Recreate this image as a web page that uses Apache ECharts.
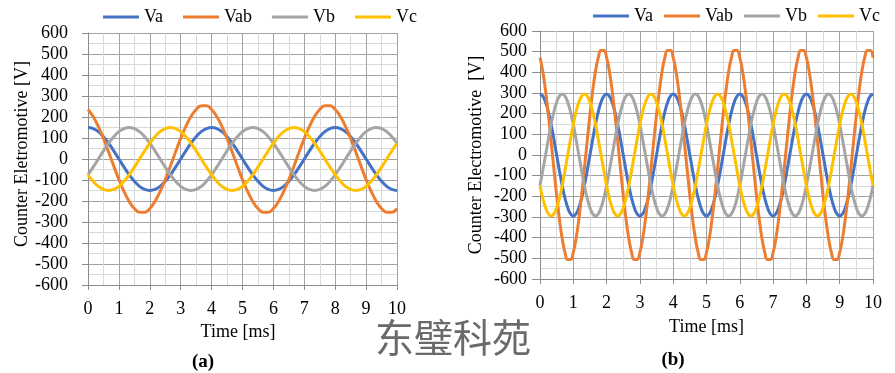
<!DOCTYPE html>
<html><head><meta charset="utf-8">
<script src="https://cdn.jsdelivr.net/npm/echarts@6/dist/echarts.min.js"></script>
<style>html,body{margin:0;padding:0;background:#fff}#c{width:895px;height:373px}</style>
</head><body><div id="c"></div>
<script>
// ---------- chart (a) ----------
const timeA = [0,0.167,0.333,0.5,0.667,0.833, 1,1.167,1.333,1.5,1.667,1.833, 2,2.167,2.333,2.5,2.667,2.833,
  3,3.167,3.333,3.5,3.667,3.833, 4,4.167,4.333,4.5,4.667,4.833, 5,5.167,5.333,5.5,5.667,5.833,
  6,6.167,6.333,6.5,6.667,6.833, 7,7.167,7.333,7.5,7.667,7.833, 8,8.167,8.333,8.5,8.667,8.833,
  9,9.167,9.333,9.5,9.667,9.833, 10];
const vaA = [150,145,130,106,75,39,0,-39,-75,-106,-130,-145,-150,-145,-130,-106,-75,-39,0,39,75,106,130,145,
  150,145,130,106,75,39,0,-39,-75,-106,-130,-145,-150,-145,-130,-106,-75,-39,0,39,75,106,130,145,
  150,145,130,106,75,39,0,-39,-75,-106,-130,-145,-150];
const vabA = [236,202,155,98,33,-33,-98,-155,-202,-236,-253,-253,-236,-202,-155,-98,-33,33,98,155,202,236,253,253,
  236,202,155,98,33,-33,-98,-155,-202,-236,-253,-253,-236,-202,-155,-98,-33,33,98,155,202,236,253,253,
  236,202,155,98,33,-33,-98,-155,-202,-236,-253,-253,-236];
const vbA = [-75,-39,0,39,75,106,130,145,150,145,130,106,75,39,0,-39,-75,-106,-130,-145,-150,-145,-130,-106,
  -75,-39,0,39,75,106,130,145,150,145,130,106,75,39,0,-39,-75,-106,-130,-145,-150,-145,-130,-106,
  -75,-39,0,39,75,106,130,145,150,145,130,106,75];
const vcA = [-75,-106,-130,-145,-150,-145,-130,-106,-75,-39,0,39,75,106,130,145,150,145,130,106,75,39,0,-39,
  -75,-106,-130,-145,-150,-145,-130,-106,-75,-39,0,39,75,106,130,145,150,145,130,106,75,39,0,-39,
  -75,-106,-130,-145,-150,-145,-130,-106,-75,-39,0,39,75];

// ---------- chart (b) ----------
const timeB = [0,0.083,0.167,0.25,0.333,0.417,0.5,0.583,0.667,0.75,0.833,0.917,
  1,1.083,1.167,1.25,1.333,1.417,1.5,1.583,1.667,1.75,1.833,1.917,
  2,2.083,2.167,2.25,2.333,2.417,2.5,2.583,2.667,2.75,2.833,2.917,
  3,3.083,3.167,3.25,3.333,3.417,3.5,3.583,3.667,3.75,3.833,3.917,
  4,4.083,4.167,4.25,4.333,4.417,4.5,4.583,4.667,4.75,4.833,4.917,
  5,5.083,5.167,5.25,5.333,5.417,5.5,5.583,5.667,5.75,5.833,5.917,
  6,6.083,6.167,6.25,6.333,6.417,6.5,6.583,6.667,6.75,6.833,6.917,
  7,7.083,7.167,7.25,7.333,7.417,7.5,7.583,7.667,7.75,7.833,7.917,
  8,8.083,8.167,8.25,8.333,8.417,8.5,8.583,8.667,8.75,8.833,8.917,
  9,9.083,9.167,9.25,9.333,9.417,9.5,9.583,9.667,9.75,9.833,9.917,
  10];
const vaB = [295,285,255,209,148,76,0,-76,-148,-209,-255,-285,-295,-285,-255,-209,-148,-76,0,76,148,209,255,285,
  295,285,255,209,148,76,0,-76,-148,-209,-255,-285,-295,-285,-255,-209,-148,-76,0,76,148,209,255,285,
  295,285,255,209,148,76,0,-76,-148,-209,-255,-285,-295,-285,-255,-209,-148,-76,0,76,148,209,255,285,
  295,285,255,209,148,76,0,-76,-148,-209,-255,-285,-295,-285,-255,-209,-148,-76,0,76,148,209,255,285,
  295,285,255,209,148,76,0,-76,-148,-209,-255,-285,-295,-285,-255,-209,-148,-76,0,76,148,209,255,285,
  295];
const vabB = [471,405,310,195,67,-67,-195,-310,-405,-471,-506,-506,-471,-405,-310,-195,-67,67,195,310,405,471,506,506,
  471,405,310,195,67,-67,-195,-310,-405,-471,-506,-506,-471,-405,-310,-195,-67,67,195,310,405,471,506,506,
  471,405,310,195,67,-67,-195,-310,-405,-471,-506,-506,-471,-405,-310,-195,-67,67,195,310,405,471,506,506,
  471,405,310,195,67,-67,-195,-310,-405,-471,-506,-506,-471,-405,-310,-195,-67,67,195,310,405,471,506,506,
  471,405,310,195,67,-67,-195,-310,-405,-471,-506,-506,-471,-405,-310,-195,-67,67,195,310,405,471,506,506,
  471];
const vbB = [-148,-76,0,76,148,209,255,285,295,285,255,209,148,76,0,-76,-148,-209,-255,-285,-295,-285,-255,-209,
  -148,-76,0,76,148,209,255,285,295,285,255,209,148,76,0,-76,-148,-209,-255,-285,-295,-285,-255,-209,
  -148,-76,0,76,148,209,255,285,295,285,255,209,148,76,0,-76,-148,-209,-255,-285,-295,-285,-255,-209,
  -148,-76,0,76,148,209,255,285,295,285,255,209,148,76,0,-76,-148,-209,-255,-285,-295,-285,-255,-209,
  -148,-76,0,76,148,209,255,285,295,285,255,209,148,76,0,-76,-148,-209,-255,-285,-295,-285,-255,-209,
  -148];
const vcB = [-148,-209,-255,-285,-295,-285,-255,-209,-148,-76,0,76,148,209,255,285,295,285,255,209,148,76,0,-76,
  -148,-209,-255,-285,-295,-285,-255,-209,-148,-76,0,76,148,209,255,285,295,285,255,209,148,76,0,-76,
  -148,-209,-255,-285,-295,-285,-255,-209,-148,-76,0,76,148,209,255,285,295,285,255,209,148,76,0,-76,
  -148,-209,-255,-285,-295,-285,-255,-209,-148,-76,0,76,148,209,255,285,295,285,255,209,148,76,0,-76,
  -148,-209,-255,-285,-295,-285,-255,-209,-148,-76,0,76,148,209,255,285,295,285,255,209,148,76,0,-76,
  -148];

const seriesNames = ['Va','Vab','Vb','Vc'];
const seriesColors = ['#4472C4','#ED7D31','#A5A5A5','#FFC000'];
const xTitle = 'Time [ms]';
const yTitleA = 'Counter Eletromotive [V]';
const yTitleB = 'Counter Electromotive  [V]';

const serif = '"Liberation Serif","Times New Roman",serif';
const pairs = (t, v) => t.map((x, i) => [x, v[i]]);
const majorC = '#a3a3a3', minorC = '#d9d9d9', axisC = '#8c8c8c';

function xAx(gi, margin, gap, pad) {
  return {
    type: 'value', gridIndex: gi, min: 0, max: 10, interval: 1,
    axisLine: { show: true, onZero: false, lineStyle: { color: axisC, width: 1 } },
    axisTick: { show: true, length: 5, lineStyle: { color: axisC } },
    axisLabel: { color: '#000', fontFamily: serif, fontSize: 18, margin: margin },
    splitLine: { show: true, lineStyle: { color: majorC, width: 1 } },
    minorTick: { show: false, splitNumber: 2 },
    minorSplitLine: { show: true, lineStyle: { color: minorC, width: 1 } },
    name: xTitle, nameLocation: 'middle', nameGap: gap,
    nameTextStyle: { color: '#000', fontFamily: serif, fontSize: 18, padding: pad }
  };
}
function yAx(gi, margin, tick, gap, name, pad) {
  return {
    type: 'value', gridIndex: gi, min: -600, max: 600, interval: 100,
    axisLine: { show: true, lineStyle: { color: axisC, width: 1 } },
    axisTick: { show: true, length: tick, lineStyle: { color: axisC } },
    axisLabel: { color: '#000', fontFamily: serif, fontSize: 18, margin: margin },
    splitLine: { show: true, lineStyle: { color: majorC, width: 1 } },
    minorTick: { show: false, splitNumber: 2 },
    minorSplitLine: { show: true, lineStyle: { color: minorC, width: 1 } },
    name: name, nameLocation: 'middle', nameGap: gap, nameRotate: 90,
    nameTextStyle: { color: '#000', fontFamily: serif, fontSize: 18, padding: pad }
  };
}

const dataA = [vaA, vabA, vbA, vcA];
const dataB = [vaB, vabB, vbB, vcB];
const series = [];
[[timeA, dataA, 0], [timeB, dataB, 1]].forEach(([t, d, gi]) => {
  d.forEach((v, i) => {
    series.push({
      type: 'line', name: seriesNames[i], xAxisIndex: gi, yAxisIndex: gi,
      data: pairs(t, v), smooth: true, showSymbol: false, symbol: 'none',
      color: seriesColors[i],
      lineStyle: { color: seriesColors[i], width: 3 },
      emphasis: { disabled: true }
    });
  });
});

const legendBase = {
  icon: 'rect', itemWidth: 36, itemHeight: 3, data: seriesNames, padding: 0,
  textStyle: { color: '#000', fontFamily: serif, fontSize: 18 },
  selectedMode: false
};

const chart = echarts.init(document.getElementById('c'));
chart.setOption({
  animation: false,
  backgroundColor: '#fff',
  grid: [
    { left: 88, top: 33, width: 309, height: 252, outerBoundsMode: 'none' },
    { left: 540, top: 31, width: 333, height: 248, outerBoundsMode: 'none' }
  ],
  legend: [
    Object.assign({}, legendBase, { left: 103, top: 8, itemGap: 20 }),
    Object.assign({}, legendBase, { left: 593, top: 7, itemGap: 11 })
  ],
  xAxis: [xAx(0, 15, 33, [0, 9, 0, 0]), xAx(1, 15, 39, 0)],
  yAxis: [yAx(0, 20, 6, 52, yTitleA, [0, 0, 0, 10]), yAx(1, 13, 8, 55, yTitleB, 0)],
  series: series,
  graphic: [
    { type: 'text', silent: true, style: { text: '(a)', x: 203, y: 362, textAlign: 'center', textVerticalAlign: 'middle', verticalAlign: 'middle', font: 'bold 19px ' + serif, fill: '#000' } },
    { type: 'text', silent: true, style: { text: '(b)', x: 673, y: 360, textAlign: 'center', textVerticalAlign: 'middle', verticalAlign: 'middle', font: 'bold 19px ' + serif, fill: '#000' } },
    { type: 'text', silent: true, z: 100, style: { text: '东璧科苑', x: 453, y: 337, textAlign: 'center', textVerticalAlign: 'middle', verticalAlign: 'middle', font: '39px "Noto Sans CJK SC", sans-serif', fill: '#6a6a6a' } }
  ]
});
</script>
</body></html>
